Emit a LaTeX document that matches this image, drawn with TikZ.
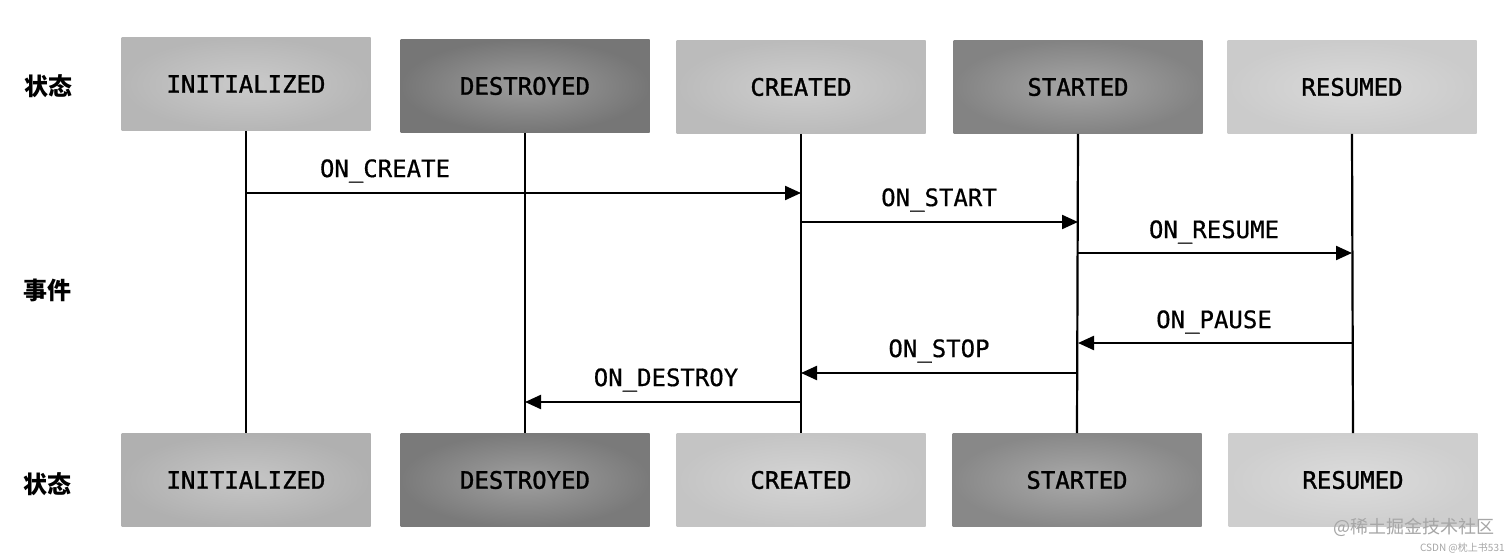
\documentclass[tikz,border=0pt]{standalone}
\usepackage{fontspec}
\usetikzlibrary{arrows.meta,calc}
\newfontfamily\cjk{Noto Sans CJK SC}
\newfontfamily\monof{DejaVu Sans Mono}[FakeBold=1.3]
\newfontfamily\monol{DejaVu Sans Mono}[FakeBold=0.6]
\definecolor{gInitT}{HTML}{B6B6B6}
\definecolor{gDestT}{HTML}{767676}
\definecolor{gCreaT}{HTML}{BBBBBB}
\definecolor{gStarT}{HTML}{838383}
\definecolor{gResuT}{HTML}{CBCBCB}
\definecolor{gInitB}{HTML}{B0B0B0}
\definecolor{gDestB}{HTML}{7A7A7A}
\definecolor{gCreaB}{HTML}{C4C4C4}
\definecolor{gStarB}{HTML}{888888}
\definecolor{gResuB}{HTML}{CECECE}
\begin{document}
\begin{tikzpicture}[x=0.5pt,y=-0.5pt,
  state/.style={minimum width=124.5pt, minimum height=46.5pt, inner sep=0pt,
    font=\monof\fontsize{12}{14}\selectfont, shading=radial,
    inner color=#1!72!white, outer color=#1},
  lifeline/.style={line width=1.1pt},
  evt/.style={line width=1.1pt,-{Triangle[length=8pt,width=7pt]}},
  evlabel/.style={font=\monol\fontsize{12}{14}\selectfont, inner sep=0pt},
  side/.style={font=\cjk\bfseries\fontsize{12}{14}\selectfont, inner sep=0pt},
  wm/.style={text=black!35, inner sep=0pt}]
\useasboundingbox[fill=white] (0,0) rectangle (1512,556);
% state boxes, top row
\node[state=gInitT] (t1) at (246,84) {INITIALIZED};
\node[state=gDestT] (t2) at (525,86) {DESTROYED};
\node[state=gCreaT] (t3) at (801,87) {CREATED};
\node[state=gStarT] (t4) at (1078,87) {STARTED};
\node[state=gResuT] (t5) at (1352,87) {RESUMED};
% state boxes, bottom row
\node[state=gInitB] (b1) at (246,480) {INITIALIZED};
\node[state=gDestB] (b2) at (525,480) {DESTROYED};
\node[state=gCreaB] (b3) at (801,480) {CREATED};
\node[state=gStarB] (b4) at (1077,480) {STARTED};
\node[state=gResuB] (b5) at (1353,480) {RESUMED};
% side labels
\node[side] (s1) at (49,86) {状态};
\node[side] (s2) at (48,290) {事件};
\node[side] (s3) at (48,484) {状态};
% lifelines
\foreach \i in {1,...,5}{\draw[lifeline] (t\i.south) -- (b\i.north);}
% event rows
\coordinate (r1) at (0,193);
\coordinate (r2) at (0,222);
\coordinate (r3) at (0,253);
\coordinate (r4) at (0,343);
\coordinate (r5) at (0,373);
\coordinate (r6) at (0,402);
\draw[evt] (t1.south |- r1) -- (t3.south |- r1);
\draw[evt] (t3.south |- r2) -- (t4.south |- r2);
\draw[evt] (t4.south |- r3) -- (t5.south |- r3);
\draw[evt] (t5.south |- r4) -- (t4.south |- r4);
\draw[evt] (t4.south |- r5) -- (t3.south |- r5);
\draw[evt] (t3.south |- r6) -- (t2.south |- r6);
% event labels
\node[evlabel] (l1) at (385,171) {ON\_CREATE};
\node[evlabel] (l2) at (939,200) {ON\_START};
\node[evlabel] (l3) at (1214,232) {ON\_RESUME};
\node[evlabel] (l4) at (1214,322) {ON\_PAUSE};
\node[evlabel] (l5) at (939,351) {ON\_STOP};
\node[evlabel] (l6) at (666,380) {ON\_DESTROY};
% watermark
\node[wm, font=\cjk\fontsize{9}{10}\selectfont] (w1) at (1414,527) {@稀土掘金技术社区};
\node[wm, font=\cjk\fontsize{5}{6}\selectfont, anchor=east] (w2) at (1505,548) {CSDN @枕上书531};
\end{tikzpicture}
\end{document}
